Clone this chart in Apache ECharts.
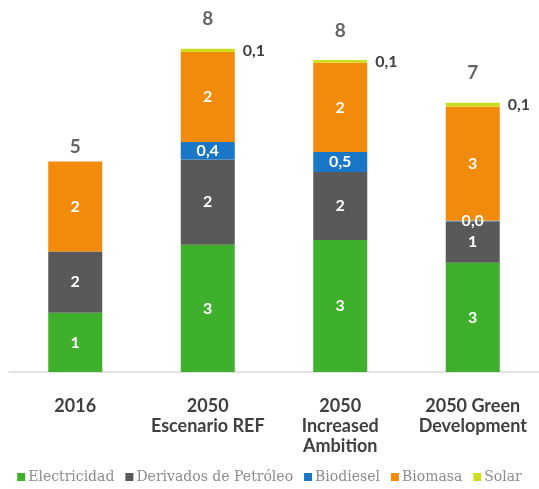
<!DOCTYPE html>
<html>
<head>
<meta charset="utf-8">
<script src="https://cdn.jsdelivr.net/npm/echarts@6/dist/echarts.min.js"></script>
<style>
  html, body { margin: 0; padding: 0; background: #ffffff; }
  #chart { width: 539px; height: 489px; }
</style>
</head>
<body>
<div id="chart"></div>
<script>
// Escenarios de consumo final de energía por fuente
const categories = ['2016', '2050\nEscenario REF', '2050\nIncreased\nAmbition', '2050 Green\nDevelopment'];
const electricidad = [1.48, 3.18, 3.30, 2.73];
const derivados    = [1.53, 2.13, 1.70, 1.03];
const biodiesel    = [0,    0.44, 0.50, 0.02];
const biomasa      = [2.25, 2.25, 2.23, 2.85];
const solar        = [0,    0.08, 0.07, 0.10];

const seriesNames = ['Electricidad', 'Derivados de Petróleo', 'Biodiesel', 'Biomasa', 'Solar'];
const colors = ['#3fb02c', '#595959', '#1a76c6', '#f28a0c', '#cddc1e'];

const totals = categories.map((_, i) =>
  electricidad[i] + derivados[i] + biodiesel[i] + biomasa[i] + solar[i]);

const FONT = 'Lato, "Open Sans", sans-serif';
const comma1 = v => v.toFixed(1).replace('.', ',');

const innerLabel = (digits) => ({
  show: true,
  position: 'inside',
  color: '#ffffff',
  fontFamily: FONT,
  fontWeight: 'bold',
  fontSize: 16,
  formatter: p => p.value === 0 ? '' : (digits ? comma1(p.value) : Math.round(p.value).toString())
});

const barBase = { type: 'bar', stack: 'total', barWidth: 54 };

const chart = echarts.init(document.getElementById('chart'));
chart.setOption({
  animation: false,
  grid: { left: 9, right: 0, top: 12, bottom: 117, containLabel: false },
  legend: {
    data: seriesNames,
    bottom: 0,
    left: 'center',
    icon: 'rect',
    itemWidth: 8,
    itemHeight: 8,
    itemGap: 11,
    textStyle: { fontFamily: '"DejaVu Serif", serif', fontSize: 14, color: '#8c8c8c', padding: [0, 0, 0, -2] }
  },
  xAxis: {
    type: 'category',
    data: categories,
    axisLine: { lineStyle: { color: '#d9d9d9', width: 1.5 } },
    axisTick: { show: false },
    axisLabel: {
      margin: 24,
      interval: 0,
      color: '#404040',
      fontFamily: FONT,
      fontWeight: 'bold',
      fontSize: 18,
      lineHeight: 20
    }
  },
  yAxis: { type: 'value', min: 0, max: 9, show: false },
  series: [
    Object.assign({}, barBase, { name: seriesNames[0], data: electricidad, itemStyle: { color: colors[0] }, label: innerLabel(false) }),
    Object.assign({}, barBase, { name: seriesNames[1], data: derivados, itemStyle: { color: colors[1] }, label: innerLabel(false) }),
    Object.assign({}, barBase, { name: seriesNames[2], data: biodiesel, itemStyle: { color: colors[2] }, label: innerLabel(true) }),
    Object.assign({}, barBase, { name: seriesNames[3], data: biomasa, itemStyle: { color: colors[3] }, label: innerLabel(false) }),
    Object.assign({}, barBase, {
      name: seriesNames[4], data: solar, itemStyle: { color: colors[4] },
      label: {
        show: true, position: 'right', distance: 8,
        color: '#404040', fontFamily: FONT, fontWeight: 'bold', fontSize: 16,
        formatter: p => p.value === 0 ? '' : comma1(p.value)
      }
    }),
    {
      name: 'Total',
      type: 'scatter',
      symbolSize: 0,
      silent: true,
      data: totals.map((t, i) => ({
        value: [i, t],
        label: { distance: solar[i] > 0 ? 20 : 5 }
      })),
      label: {
        show: true, position: 'top',
        color: '#404040', fontFamily: FONT, fontWeight: 'bold', fontSize: 19,
        formatter: p => Math.round(p.value[1]).toString()
      }
    }
  ]
});
</script>
</body>
</html>
